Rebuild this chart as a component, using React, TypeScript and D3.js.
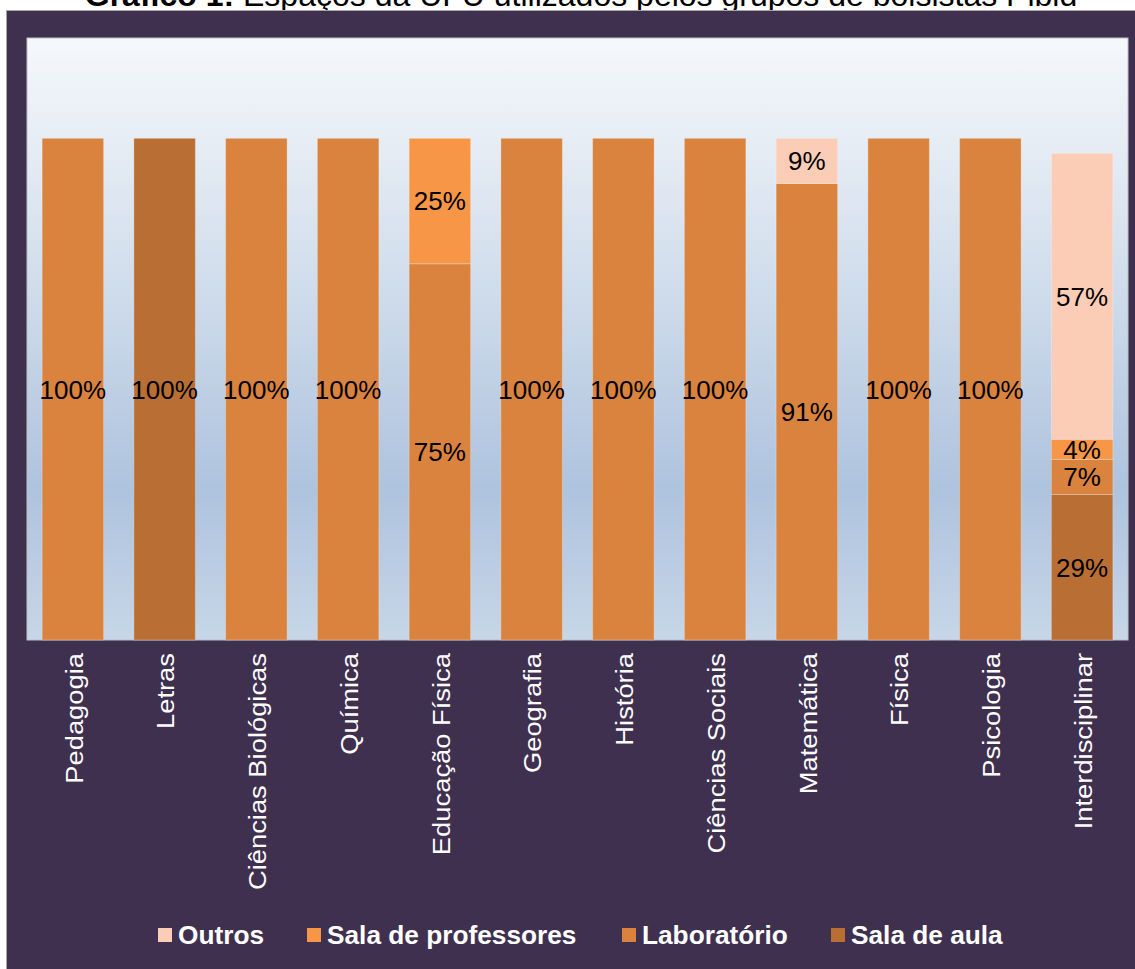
import React from 'react'
import * as d3 from 'd3'

const title = 'Espaços da UFU utilizados pelos grupos de bolsistas Pibid'

const categories = [
    'Pedagogia', 'Letras', 'Ciências Biológicas', 'Química', 'Educação Física', 'Geografia',
    'História', 'Ciências Sociais', 'Matemática', 'Física', 'Psicologia', 'Interdisciplinar'
]

// values in %
const salaDeAula = [0, 100, 0, 0, 0, 0, 0, 0, 0, 0, 0, 29]
const laboratorio = [100, 0, 100, 100, 75, 100, 100, 100, 91, 100, 100, 7]
const salaProfessores = [0, 0, 0, 0, 25, 0, 0, 0, 0, 0, 0, 4]
const outros = [0, 0, 0, 0, 0, 0, 0, 0, 9, 0, 0, 57]

const seriesKeys = ['Sala de aula', 'Laboratório', 'Sala de professores', 'Outros']
const seriesValues = [salaDeAula, laboratorio, salaProfessores, outros]
const legendOrder = ['Outros', 'Sala de professores', 'Laboratório', 'Sala de aula']

const colors: { [k: string]: string } = {
    'Sala de aula': '#B96F33',
    'Laboratório': '#D9833F',
    'Sala de professores': '#F79646',
    'Outros': '#FBCDB7'
}

const W = 1135
const H = 969
const plot = { left: 27, right: 1128, top: 38, bottom: 640 }
const font = 'Liberation Sans, Arial, sans-serif'

export default function App () {
    const rows = categories.map((c, i) => {
        const row: any = { category: c }
        seriesKeys.forEach((k, j) => { row[k] = seriesValues[j][i] })
        return row
    })
    const stacked = d3.stack().keys(seriesKeys)(rows)

    const x = d3.scaleBand().domain(categories).range([plot.left, plot.right]).paddingInner(0.33).paddingOuter(0.165)
    const y = d3.scaleLinear().domain([0, 120]).range([plot.bottom, plot.top])

    const legendX = [158, 307, 622, 831]

    return (
        <svg width={W} height={H} style={{ position: 'absolute', left: 0, top: 0 }} fontFamily={font}>
            <defs>
                <linearGradient id='bg' x1='0' y1='0' x2='0' y2='1'>
                    <stop offset='0' stopColor='#F5F8FB' />
                    <stop offset='0.35' stopColor='#D6E1EE' />
                    <stop offset='0.75' stopColor='#AEC3DE' />
                    <stop offset='1' stopColor='#C7D6E8' />
                </linearGradient>
            </defs>
            <rect x={0} y={0} width={W} height={H} fill='#ffffff' />
            <text x={581} y={6} textAnchor='middle' fontSize={32} fill='#000'>
                <tspan fontWeight='bold'>Gráfico 1:</tspan> {title}
            </text>
            <rect x={6.5} y={10.5} width={W} height={H} fill='#3F3050' stroke='#A6A6A6' strokeWidth={1} />
            <rect x={plot.left} y={plot.top} width={plot.right - plot.left} height={plot.bottom - plot.top}
                fill='url(#bg)' stroke='#BFBFBF' strokeWidth={1} />
            {stacked.map((s) => (
                <g key={s.key}>
                    {s.map((d, i) => {
                        const v = d[1] - d[0]
                        if (!v) return null
                        const x0 = x(categories[i])!
                        const y0 = y(d[1])
                        const h = y(d[0]) - y(d[1])
                        return (
                            <g key={i}>
                                <rect x={x0} y={y0} width={x.bandwidth()} height={h}
                                    fill={colors[s.key]} stroke='rgba(255,255,255,0.25)' strokeWidth={1} />
                                <text x={x0 + x.bandwidth() / 2} y={y0 + h / 2} dy='0.36em' textAnchor='middle'
                                    fontSize={26} fill='#000'>{v}%</text>
                            </g>
                        )
                    })}
                </g>
            ))}
            {categories.map((c) => (
                <text key={c} transform={`translate(${x(c)! + x.bandwidth() / 2 + 1}, 653) rotate(-90) scale(1.14, 1)`}
                    textAnchor='end' dy='0.36em' fontSize={24} fill='#FFFFFF'>{c}</text>
            ))}
            {legendOrder.map((k, i) => (
                <g key={k} transform={`translate(${legendX[i]}, 935)`}>
                    <rect x={0} y={-7} width={14} height={14} fill={colors[k]} />
                    <text x={20} dy='0.36em' fontSize={25} fontWeight='bold' fill='#FFFFFF'
                        transform={`translate(20, 0) scale(1.05, 1) translate(-20, 0)`}>{k}</text>
                </g>
            ))}
        </svg>
    )
}
